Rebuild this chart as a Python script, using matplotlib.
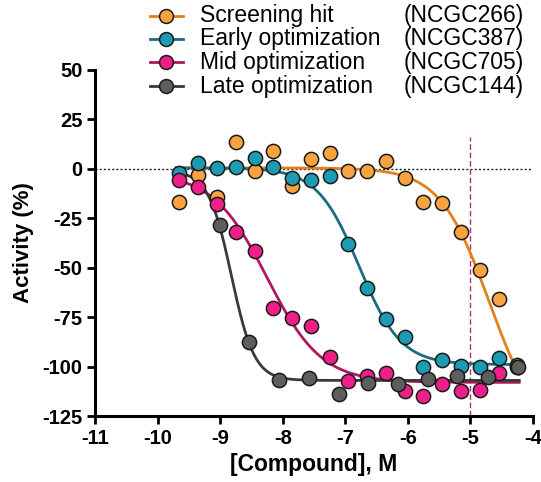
import numpy as np
import matplotlib
matplotlib.use("Agg")
import matplotlib.pyplot as plt
from matplotlib.lines import Line2D

plt.rcParams["font.family"] = ["Liberation Sans", "DejaVu Sans"]
plt.rcParams["axes.unicode_minus"] = False

# log molar concentrations and % activity for each compound
log_conc_266 = [-9.65, -9.35, -9.05, -8.75, -8.45, -8.15, -7.85, -7.55, -7.25, -6.95,
                -6.65, -6.35, -6.05, -5.75, -5.45, -5.15, -4.85, -4.55, -4.25]
act_266 = [-17, -3, -14, 13.5, -1, 9, -8.5, 5, 8, -1,
           -1, 4, -4.5, -17, -17.5, -32, -51, -66, -99]

log_conc_387 = [-9.65, -9.35, -9.05, -8.75, -8.45, -8.15, -7.85, -7.55, -7.25, -6.95,
                -6.65, -6.35, -6.05, -5.75, -5.45, -5.15, -4.85, -4.55, -4.25]
act_387 = [-2.3, 2.8, 0.6, 1.1, 5.3, 1.1, -4.8, -5.6, -3.5, -38.2,
           -60.4, -75.9, -84.9, -100, -96.7, -99.6, -100.4, -95.8, -100]

log_conc_705 = [-9.65, -9.35, -9.05, -8.75, -8.45, -8.15, -7.85, -7.55, -7.25, -6.95,
                -6.65, -6.35, -6.05, -5.75, -5.45, -5.15, -4.85, -4.55]
act_705 = [-5.6, -9.0, -17.8, -31.8, -41.6, -70.5, -75.6, -79.5, -95, -107.5,
           -105, -103.3, -112.5, -114.7, -109, -112.4, -112, -103]

log_conc_144 = [-9.01, -8.54, -8.06, -7.58, -7.10, -6.63, -6.16, -5.68, -5.21, -4.72, -4.24]
act_144 = [-28.4, -87.7, -106.8, -106, -113.9, -108.2, -108.8, -106.5, -104.8, -105.1, -100.1]

# 4-parameter logistic fits: top, bottom, logIC50, hill slope
fit_266 = (0.5, -135, -4.7, 1.1)
fit_387 = (0.5, -99, -6.78, 1.3)
fit_705 = (-2, -108, -8.25, 1.0)
fit_144 = (-1, -107, -8.82, 2.36)

names = ["Screening hit", "Early optimization", "Mid optimization", "Late optimization"]
codes = ["(NCGC266)", "(NCGC387)", "(NCGC705)", "(NCGC144)"]
fill_colors = ["#F8A33F", "#1C9BB3", "#EF1F88", "#5E5E5E"]
line_colors = ["#E0811C", "#1C6C7E", "#B0175F", "#3A3A3A"]

series = [(log_conc_266, act_266, fit_266),
          (log_conc_387, act_387, fit_387),
          (log_conc_705, act_705, fit_705),
          (log_conc_144, act_144, fit_144)]


def hill(x, top, bottom, log_ic50, slope):
    return bottom + (top - bottom) / (1 + 10 ** ((x - log_ic50) * slope))


fig = plt.figure(figsize=(5.41, 4.82), dpi=100)
ax = fig.add_axes([95 / 541, 66 / 482, 438 / 541, 346 / 482])

xfit = np.linspace(-9.7, -4.22, 300)
for i, (xs, ys, fit) in enumerate(series):
    ax.plot(xfit, hill(xfit, *fit), color=line_colors[i], lw=2.0, zorder=2 + i * 0.1)
for i, (xs, ys, fit) in enumerate(series):
    ax.scatter(xs, ys, s=105, color=fill_colors[i], edgecolor="#1a1a1a",
               linewidth=1.1, zorder=3 + i, clip_on=False)

# baseline and reference concentration
ax.axhline(0, color="#222222", lw=1.0, ls=(0, (1.5, 1.5)), zorder=1)
ax.plot([-5, -5], [-125, 16], color="#B8306E", lw=1.0, ls=(0, (4, 2)), zorder=1)

ax.set_xlim(-11, -4)
ax.set_ylim(-125, 50)
ax.set_xticks(range(-11, -3))
ax.set_yticks(range(-125, 51, 25))
for s in ["top", "right"]:
    ax.spines[s].set_visible(False)
for s in ["left", "bottom"]:
    ax.spines[s].set_linewidth(2.2)
ax.tick_params(direction="out", length=6, width=2, labelsize=14.5, pad=3)
for lab in ax.get_xticklabels() + ax.get_yticklabels():
    lab.set_fontweight("bold")

ax.set_xlabel("[Compound], M", fontsize=16.5, fontweight="bold", labelpad=4)
ax.set_ylabel("Activity (%)", fontsize=16, fontweight="bold", labelpad=6)

# legend drawn by hand so the compound codes line up on the right
row_y = [15.6, 38.8, 62, 86]
for i in range(4):
    fy = 1 - row_y[i] / 482
    fig.add_artist(Line2D([150 / 541, 183 / 541], [fy, fy], color=line_colors[i],
                          lw=2.0, transform=fig.transFigure))
    fig.add_artist(Line2D([166 / 541], [fy], marker="o", markersize=10,
                          markerfacecolor=fill_colors[i], markeredgecolor="#1a1a1a",
                          markeredgewidth=1.1, transform=fig.transFigure))
    fig.text(200 / 541, fy, names[i], fontsize=16.5, va="center", ha="left")
    fig.text(524 / 541, fy, codes[i], fontsize=16.5, va="center", ha="right")

fig.savefig("out.png", dpi=100)
